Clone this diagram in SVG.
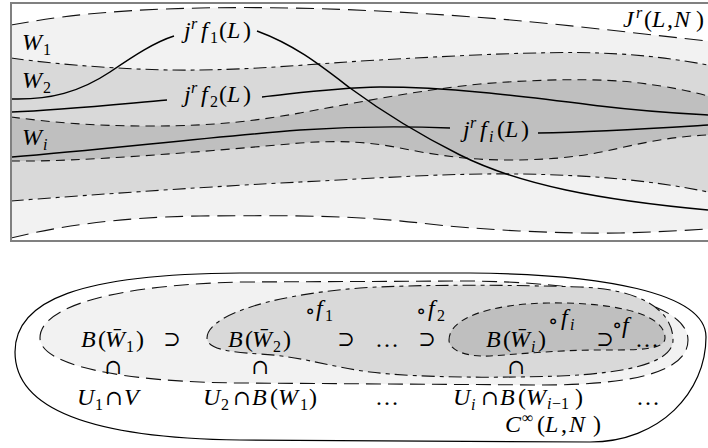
<svg xmlns="http://www.w3.org/2000/svg" width="708" height="448" viewBox="0 0 708 448">
<style>
.t{font-family:"Liberation Serif","DejaVu Serif",serif;font-size:24px;fill:#000}
.i{font-style:italic}
.s{font-size:16px}
.sy{font-family:"DejaVu Serif","Liberation Serif",serif;font-size:21px}
.ld{fill:none;stroke:#111;stroke-width:1.1;stroke-dasharray:18 8}
.dd{fill:none;stroke:#111;stroke-width:1.1;stroke-dasharray:13 5 4 5}
.sd{fill:none;stroke:#111;stroke-width:1.1;stroke-dasharray:9 6}
.cv{fill:none;stroke:#000;stroke-width:1.5}
.l1{fill:#f2f2f2}.l2{fill:#d9d9d9}.l3{fill:#bfbfbf}.wh{fill:#fff}
</style>
<defs>
<clipPath id="fr"><rect x="11" y="3" width="700" height="238"/></clipPath>
</defs>
<g id="jet-space" clip-path="url(#fr)">
<path class="l1" d="M11,25 C50,18 100,10 200,8 C300,6 400,11 500,19 C580,26 650,35 708,41 L708,241 L11,241 Z"/>
<path class="l2" d="M11,58 C60,65 140,71 200,70 C270,69 320,63 380,60 C450,56 540,51 600,53 C650,55 680,60 708,65 L708,241 L11,241 Z"/>
<path class="l3" d="M11,117 C50,122 90,126 150,126 C220,126 260,120 300,113 C360,102 420,90 480,84 C540,79 600,78 640,83 C670,87 690,91 708,96 L708,241 L11,241 Z"/>
<path class="l2" d="M11,161 C80,162 200,152 300,143 C340,140 370,142 400,148 C440,156 470,160 510,160 C560,160 590,155 620,148 C650,141 680,136 708,135 L708,241 L11,241 Z"/>
<path class="l1" d="M11,201 C100,194 220,186 300,182 C380,178 450,173 520,174 C590,175 650,180 708,192 L708,241 L11,241 Z"/>
<path class="wh" d="M11,238 C60,226 120,217 200,216 C300,215 360,216 420,223 C480,230 560,234 620,233 C660,232 690,230 708,229 L708,241 L11,241 Z"/>
<path class="ld" d="M11,25 C50,18 100,10 200,8 C300,6 400,11 500,19 C580,26 650,35 708,41"/>
<path class="dd" d="M11,58 C60,65 140,71 200,70 C270,69 320,63 380,60 C450,56 540,51 600,53 C650,55 680,60 708,65"/>
<path class="sd" d="M11,117 C50,122 90,126 150,126 C220,126 260,120 300,113 C360,102 420,90 480,84 C540,79 600,78 640,83 C670,87 690,91 708,96"/>
<path class="sd" d="M11,161 C80,162 200,152 300,143 C340,140 370,142 400,148 C440,156 470,160 510,160 C560,160 590,155 620,148 C650,141 680,136 708,135"/>
<path class="dd" d="M11,201 C100,194 220,186 300,182 C380,178 450,173 520,174 C590,175 650,180 708,192"/>
<path class="ld" d="M11,238 C60,226 120,217 200,216 C300,215 360,216 420,223 C480,230 560,234 620,233 C660,232 690,230 708,229"/>
</g>
<g id="curves">
<path class="cv" d="M12,99 C50,100 80,92 110,72 C135,55 155,42 174,36"/>
<path class="cv" d="M257,31 C295,45 320,65 350,88 C380,110 420,135 460,155 C520,185 600,200 708,210"/>
<path class="cv" d="M12,112 C60,110 120,104 167,100"/>
<path class="cv" d="M262,97 C300,93 330,88 380,87 C450,87 520,96 600,106 C650,112 690,114 708,115"/>
<path class="cv" d="M12,157 C100,150 200,138 300,130 C360,126 400,126 450,128"/>
<path class="cv" d="M538,133 C600,132 660,128 708,125"/>
</g>
<g id="top-labels" class="t">
<text><tspan class="i" x="22" y="50">W</tspan><tspan class="s" x="43" y="55">1</tspan></text>
<text><tspan class="i" x="22" y="88">W</tspan><tspan class="s" x="43" y="93">2</tspan></text>
<text><tspan class="i" x="22" y="145">W</tspan><tspan class="s i" x="43" y="150">i</tspan></text>
<text><tspan class="i" x="184" y="38">j</tspan><tspan class="s i" x="191" y="29">r</tspan><tspan class="i" x="201" y="38">f</tspan><tspan class="s" x="210" y="43">1</tspan><tspan x="219" y="38">(</tspan><tspan class="i" x="227" y="38">L</tspan><tspan x="243" y="38">)</tspan></text>
<text><tspan class="i" x="184" y="102">j</tspan><tspan class="s i" x="191" y="93">r</tspan><tspan class="i" x="201" y="102">f</tspan><tspan class="s" x="210" y="107">2</tspan><tspan x="219" y="102">(</tspan><tspan class="i" x="227" y="102">L</tspan><tspan x="243" y="102">)</tspan></text>
<text><tspan class="i" x="463" y="137">j</tspan><tspan class="s i" x="470" y="128">r</tspan><tspan class="i" x="480" y="137">f</tspan><tspan class="s i" x="489" y="142">i</tspan><tspan x="497" y="137">(</tspan><tspan class="i" x="505" y="137">L</tspan><tspan x="521" y="137">)</tspan></text>
<text><tspan class="i" x="623" y="27">J</tspan><tspan class="s i" x="636" y="18">r</tspan><tspan x="644" y="27">(</tspan><tspan class="i" x="652" y="27">L</tspan><tspan x="667" y="27">,</tspan><tspan class="i" x="674" y="27">N</tspan><tspan x="696" y="27">)</tspan></text>
</g>
<rect id="frame" x="11" y="3" width="700" height="238" fill="none" stroke="#808080" stroke-width="2"/>
<g id="C-infinity">
<path fill="#fff" stroke="#000" stroke-width="1.2" d="M240,273 L470,273 C600,274 706,292 706,337 C706,392 660,442 590,442 L240,440 C80,438 15,405 15,352 C15,300 80,274 240,273 Z"/>
</g>
<g id="B-W1">
<path class="l1" d="M240,282 L470,281 C580,282 688,300 688,340 C688,370 640,385 540,385 L240,383 C120,382 40,365 40,338 C40,305 120,285 240,282 Z"/>
<path class="ld" style="stroke-dasharray:15 7" d="M240,282 L470,281 C580,282 688,300 688,340 C688,370 640,385 540,385 L240,383 C120,382 40,365 40,338 C40,305 120,285 240,282 Z"/>
</g>
<g id="B-W2">
<path class="l2" d="M207,338 C207,318 260,296 360,288 C420,284 520,285 580,287 C640,289 673,310 673,340 C673,362 630,373 560,376 C500,378 420,378 370,372 C330,367 300,356 260,354 C225,352 207,348 207,338 Z"/>
<path class="dd" d="M207,338 C207,318 260,296 360,288 C420,284 520,285 580,287 C640,289 673,310 673,340 C673,362 630,373 560,376 C500,378 420,378 370,372 C330,367 300,356 260,354 C225,352 207,348 207,338 Z"/>
</g>
<g id="B-Wi">
<path class="l3" d="M449,340 C449,318 490,304 548,303 C600,302 665,310 665,338 C665,350 640,350 600,350 C560,350 520,354 490,356 C465,357 449,350 449,340 Z"/>
<path class="sd" style="stroke-dasharray:7 5" d="M449,340 C449,318 490,304 548,303 C600,302 665,310 665,338 C665,350 640,350 600,350 C560,350 520,354 490,356 C465,357 449,350 449,340 Z"/>
</g>
<g id="bottom-labels" class="t">
<text><tspan class="i" x="81" y="347">B</tspan><tspan x="98" y="347">(</tspan><tspan class="i" x="105" y="347">W&#x0304;</tspan><tspan class="s" x="126" y="352">1</tspan><tspan x="136" y="347">)</tspan></text>
<text class="sy" x="172" y="346" text-anchor="middle">⊃</text>
<text><tspan class="i" x="228" y="347">B</tspan><tspan x="245" y="347">(</tspan><tspan class="i" x="252" y="347">W&#x0304;</tspan><tspan class="s" x="273" y="352">2</tspan><tspan x="283" y="347">)</tspan></text>
<text class="sy" x="346" y="346" text-anchor="middle">⊃</text>
<text x="375" y="347">…</text>
<text class="sy" x="427" y="346" text-anchor="middle">⊃</text>
<text><tspan class="i" x="486" y="347">B</tspan><tspan x="503" y="347">(</tspan><tspan class="i" x="510" y="347">W&#x0304;</tspan><tspan class="s i" x="531" y="352">i</tspan><tspan x="538" y="347">)</tspan></text>
<text><tspan class="sy" x="548" y="328">∘</tspan><tspan class="i" x="561" y="325">f</tspan><tspan class="s i" x="570" y="330">i</tspan></text>
<text class="sy" x="605" y="346" text-anchor="middle">⊃</text>
<text><tspan class="sy" x="612" y="332">∘</tspan><tspan class="i" x="622" y="333">f</tspan></text>
<text x="635" y="347">…</text>
<text><tspan class="sy" x="305" y="318">∘</tspan><tspan class="i" x="316" y="316">f</tspan><tspan class="s" x="325" y="321">1</tspan></text>
<text><tspan class="sy" x="416" y="318">∘</tspan><tspan class="i" x="428" y="316">f</tspan><tspan class="s" x="437" y="321">2</tspan></text>
<text class="sy" x="113" y="374" text-anchor="middle">∩</text>
<text class="sy" x="260" y="374" text-anchor="middle">∩</text>
<text class="sy" x="516" y="374" text-anchor="middle">∩</text>
<text><tspan class="i" x="77" y="405">U</tspan><tspan class="s" x="95" y="410">1</tspan><tspan class="sy" x="105" y="405">∩</tspan><tspan class="i" x="124" y="405">V</tspan></text>
<text><tspan class="i" x="203" y="405">U</tspan><tspan class="s" x="221" y="410">2</tspan><tspan class="sy" x="233" y="405">∩</tspan><tspan class="i" x="252" y="405">B</tspan><tspan x="270" y="405">(</tspan><tspan class="i" x="278" y="405">W</tspan><tspan class="s" x="300" y="410">1</tspan><tspan x="309" y="405">)</tspan></text>
<text x="375" y="405">…</text>
<text><tspan class="i" x="453" y="405">U</tspan><tspan class="s i" x="471" y="410">i</tspan><tspan class="sy" x="481" y="405">∩</tspan><tspan class="i" x="500" y="405">B</tspan><tspan x="518" y="405">(</tspan><tspan class="i" x="526" y="405">W</tspan><tspan class="s i" x="547" y="409">i</tspan><tspan class="s" x="552" y="409">−1</tspan><tspan x="575" y="405">)</tspan></text>
<text x="636" y="405">…</text>
<text><tspan class="i" x="505" y="432">C</tspan><tspan class="s" x="522" y="423">∞</tspan><tspan x="537" y="432">(</tspan><tspan class="i" x="545" y="432">L</tspan><tspan x="561" y="432">,</tspan><tspan class="i" x="569" y="432">N</tspan><tspan x="593" y="432">)</tspan></text>
</g>
</svg>
